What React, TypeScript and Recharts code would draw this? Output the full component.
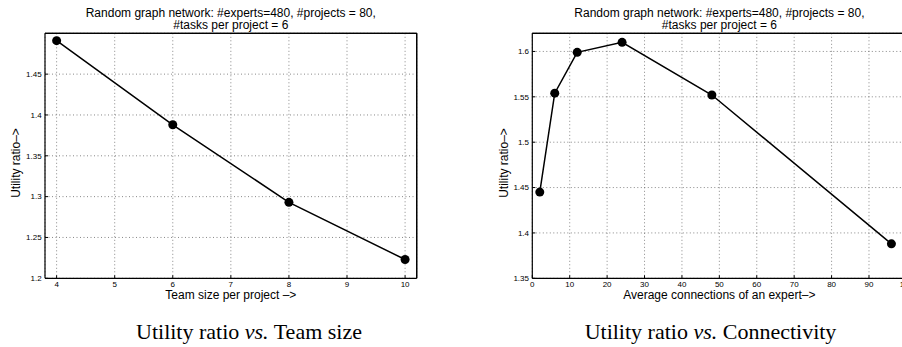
import React from 'react';
import { LineChart, Line, XAxis, YAxis, CartesianGrid, ReferenceLine } from 'recharts';

// left panel: utility ratio vs team size
const teamSizes = [4, 6, 8, 10];
const teamUtility = [1.491, 1.388, 1.293, 1.223];
const teamXTicks = [4, 5, 6, 7, 8, 9, 10];
const teamYTicks = [1.2, 1.25, 1.3, 1.35, 1.4, 1.45];

// right panel: utility ratio vs connectivity
const connections = [2, 6, 12, 24, 48, 96];
const connUtility = [1.445, 1.554, 1.599, 1.61, 1.552, 1.388];
const connXTicks = [0, 10, 20, 30, 40, 50, 60, 70, 80, 90, 100];
const connYTicks = [1.35, 1.4, 1.45, 1.5, 1.55, 1.6];

const titleLine1 = 'Random graph network: #experts=480, #projects = 80,';
const titleLine2 = '#tasks per project = 6';

const FONT = '"Liberation Sans", Arial, Helvetica, sans-serif';
const SERIF = '"Liberation Serif", "Times New Roman", Times, serif';

const teamRows = teamSizes.map((x, i) => ({ x, y: teamUtility[i] }));
const connRows = connections.map((x, i) => ({ x, y: connUtility[i] }));

const tickStyle = { fill: '#000', fontSize: 8, fontFamily: FONT };
const frame = { stroke: '#000', strokeWidth: 1.2 };

interface PanelProps {
  rows: { x: number; y: number }[];
  width: number;
  plotLeft: number;
  plotRight: number;
  xDomain: [number, number];
  yDomain: [number, number];
  xTicks: number[];
  yTicks: number[];
  xLabel: string;
  yLabelX: number;
}

const Panel: React.FC<PanelProps> = ({
  rows,
  width,
  plotLeft,
  plotRight,
  xDomain,
  yDomain,
  xTicks,
  yTicks,
  xLabel,
  yLabelX,
}) => {
  const cx = (plotLeft + plotRight) / 2;
  const txt = { fontFamily: FONT, fontSize: 12, fill: '#000' };

  return (
    <LineChart
      width={width}
      height={347}
      data={rows}
      margin={{ top: 32.3, right: width - plotRight - 1, bottom: 38.7, left: 0 }}
    >
      <CartesianGrid stroke="#555" strokeWidth={0.7} strokeDasharray="1 2.5" />
      <XAxis
        dataKey="x"
        type="number"
        domain={xDomain}
        ticks={xTicks}
        allowDataOverflow
        height={30}
        axisLine={frame}
        tickLine={{ stroke: '#000' }}
        tickSize={-3}
        tickMargin={6.2}
        tick={tickStyle}
        label={{
          content: () => (
            <text x={cx} y={298.5} textAnchor="middle" {...txt}>
              {xLabel}
            </text>
          ),
        }}
      />
      <XAxis
        xAxisId="top"
        orientation="top"
        dataKey="x"
        type="number"
        domain={xDomain}
        ticks={xTicks}
        allowDataOverflow
        height={1}
        axisLine={frame}
        tickLine={{ stroke: '#000' }}
        tickSize={-3}
        tick={false}
      />
      <YAxis
        type="number"
        domain={yDomain}
        ticks={yTicks}
        allowDataOverflow
        width={plotLeft}
        axisLine={frame}
        tickLine={{ stroke: '#000' }}
        tickSize={-3}
        tickMargin={6.3}
        tick={tickStyle}
        label={{
          content: () => (
            <text
              x={yLabelX}
              y={163}
              textAnchor="middle"
              transform={`rotate(-90 ${yLabelX} 163)`}
              {...txt}
            >
              Utility ratio–&gt;
            </text>
          ),
        }}
      />
      <YAxis
        yAxisId="right"
        orientation="right"
        type="number"
        domain={yDomain}
        ticks={yTicks}
        allowDataOverflow
        width={1}
        axisLine={frame}
        tickLine={{ stroke: '#000' }}
        tickSize={-3}
        tick={false}
      />
      <ReferenceLine y={yDomain[1]} stroke="#000" strokeWidth={1.2} />
      <ReferenceLine x={xDomain[1]} stroke="#000" strokeWidth={1.2} />
      <Line
        xAxisId="top"
        yAxisId="right"
        type="linear"
        dataKey="y"
        stroke="none"
        dot={false}
        activeDot={false}
        isAnimationActive={false}
      />
      <Line
        type="linear"
        dataKey="y"
        stroke="#000"
        strokeWidth={1.5}
        dot={{ r: 4.5, fill: '#000', stroke: '#000', strokeWidth: 0 }}
        isAnimationActive={false}
      />
    </LineChart>
  );
};

export default function App() {
  const txt = { fontFamily: FONT, fontSize: 12, fill: '#000' };
  return (
    <div
      style={{
        position: 'fixed',
        left: 0,
        top: 0,
        width: 902,
        height: 347,
        overflow: 'hidden',
        background: '#fff',
      }}
    >
      <div style={{ position: 'absolute', left: 0, top: 0 }}>
        <Panel
          rows={teamRows}
          width={430}
          plotLeft={45}
          plotRight={416.7}
          xDomain={[3.8, 10.2]}
          yDomain={[1.2, 1.5]}
          xTicks={teamXTicks}
          yTicks={teamYTicks}
          xLabel="Team size per project –>"
          yLabelX={19.5}
        />
      </div>
      <div style={{ position: 'absolute', left: 450, top: 0 }}>
        <Panel
          rows={connRows}
          width={470}
          plotLeft={82.3}
          plotRight={456.4}
          xDomain={[0, 100]}
          yDomain={[1.35, 1.62]}
          xTicks={connXTicks}
          yTicks={connYTicks}
          xLabel="Average connections of an expert–>"
          yLabelX={58}
        />
      </div>
      <svg width={902} height={347} style={{ position: 'absolute', left: 0, top: 0, pointerEvents: 'none' }}>
        <text x={230.8} y={17} textAnchor="middle" {...txt}>{titleLine1}</text>
        <text x={230.8} y={29.3} textAnchor="middle" {...txt}>{titleLine2}</text>
        <text x={719.4} y={17} textAnchor="middle" {...txt}>{titleLine1}</text>
        <text x={719.4} y={29.3} textAnchor="middle" {...txt}>{titleLine2}</text>
        <text x={249} y={339} textAnchor="middle" fontFamily={SERIF} fontSize={22} fill="#000">
          Utility ratio <tspan fontStyle="italic">vs.</tspan> Team size
        </text>
        <text x={710.5} y={339} textAnchor="middle" fontFamily={SERIF} fontSize={22} fill="#000">
          Utility ratio <tspan fontStyle="italic">vs.</tspan> Connectivity
        </text>
      </svg>
    </div>
  );
}
